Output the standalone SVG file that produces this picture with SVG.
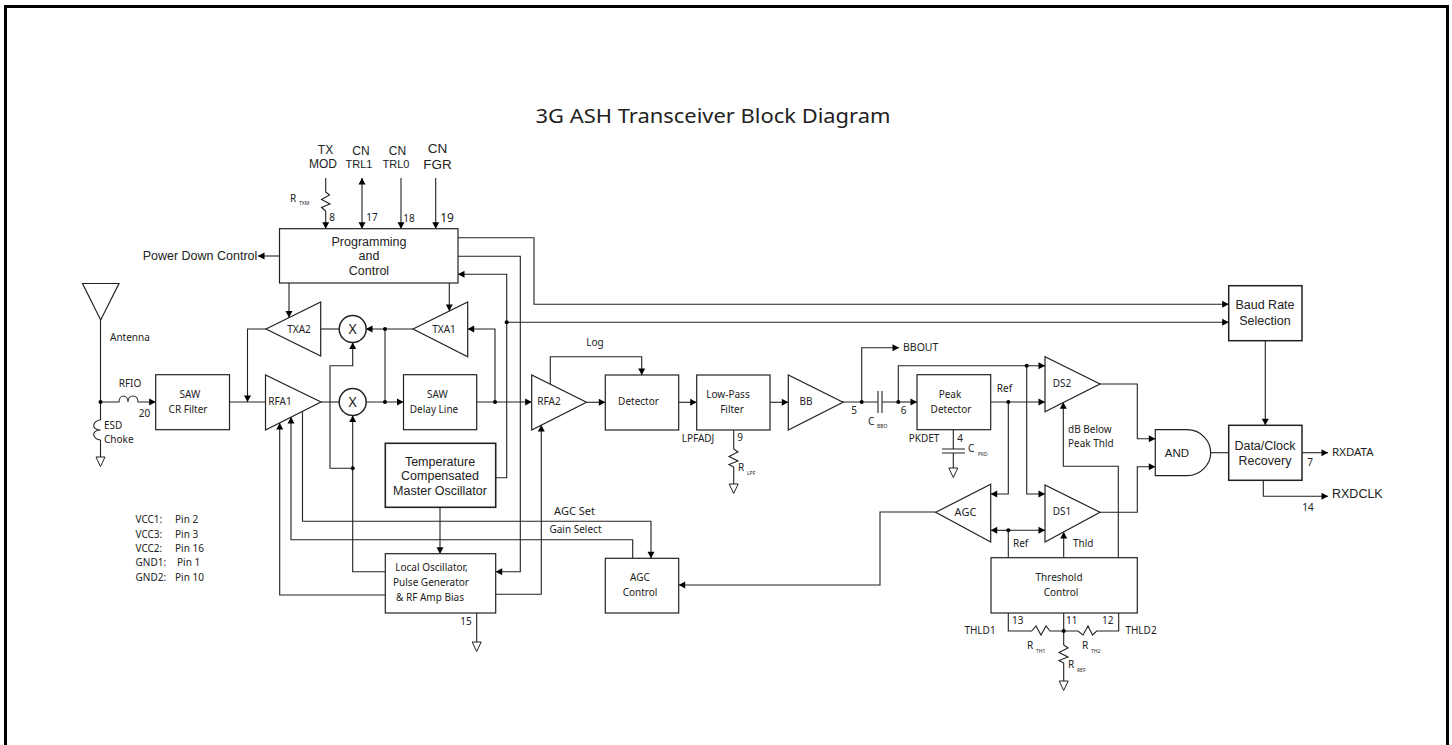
<svg xmlns="http://www.w3.org/2000/svg" width="1452" height="745" viewBox="0 0 1452 745">
<style>
text{font-family:"Noto Sans","Liberation Sans",sans-serif;font-size:10px;fill:#222;text-anchor:middle}
.a{font-family:"Liberation Sans",Arial,sans-serif;font-size:12.500px}
.l{text-anchor:start}
.s{font-size:5px;text-anchor:start}
.b{fill:#fff;stroke:#222;stroke-width:1.2}
.t{fill:none;stroke:#222;stroke-width:1.2}
#wires path{fill:none;stroke:#222;stroke-width:1.1}
.ar{marker-end:url(#h)}
.d{fill:#000}
</style>
<defs>
<marker id="h" markerUnits="userSpaceOnUse" markerWidth="8" markerHeight="8" refX="7" refY="4" orient="auto"><path d="M0.5 0.5L7 4L0.5 7.5Z" fill="#000"/></marker>
<g id="gnd"><path d="M-4.500 0H4.500L0 9.500Z" fill="#fff" stroke="#222" stroke-width="1"/></g>
</defs>
<rect x="5.500" y="6.500" width="1442" height="745" fill="#fff" stroke="#000" stroke-width="3"/>
<text x="713" y="123" style="font-size:20px" textLength="355" lengthAdjust="spacingAndGlyphs">3G ASH Transceiver Block Diagram</text>

<g id="wires">
<path class="ar" d="M325.700 211V228.700"/><path d="M325.700 178V192L329.500 195L321.500 199.500L330 204L321.500 207.500L325.700 211"/>
<path class="ar" d="M362 203V228.700"/><path class="ar" d="M362 203V178"/>
<path class="ar" d="M401 178V228.700"/><path class="ar" d="M435.700 178V228.700"/>
<path class="ar" d="M279.500 256H258"/>
<path d="M100.500 320V420M100.500 440V457"/>
<path d="M100.500 420C93 420 90 430 100.500 430M100.500 430C90 430 93 440 100.500 440"/>
<path class="ar" d="M100.500 402H119C119 394 128 394 128 402C128 394 138 394 138 402H155.700"/>
<path d="M229.500 402H265.500"/>
<path class="ar" d="M266 329H247.500V402"/>
<path class="ar" d="M289 283V317.500"/><path class="ar" d="M449.300 283V311"/>
<path d="M320.700 329H339"/><path d="M321 402H339"/>
<path d="M366 402H403.500" class="ar"/><path class="ar" d="M413 329H366"/>
<path d="M385 329V402"/>
<path class="ar" d="M476.700 402H531.700"/>
<path class="ar" d="M495 402V329H467.700"/>
<path class="ar" d="M586.500 402.300H605.300"/>
<path class="ar" d="M550.300 384V356.700H641.700V375"/>
<path class="ar" d="M678.700 402.300H696.700"/>
<path class="ar" d="M770 402.300H788.300"/>
<path d="M733.700 430V449L738 452L729 456.500L738 461L729 464.500L733.700 467V484"/>
<path d="M842 402H878M882 402H898.300"/>
<path d="M878 391V413M882 391V413"/>
<path class="ar" d="M861.700 402V347.700H899"/>
<path class="ar" d="M898.300 402H917"/>
<path class="ar" d="M898.300 402V365.700H1045"/>
<path class="ar" d="M1026.700 365.700V494H1045"/>
<path class="ar" d="M990.700 402H1045"/>
<path class="ar" d="M1008.300 402V494H990.700"/>
<path d="M953.300 430V449M953.300 453V468M942 449H965M942 453H965"/>
<path class="ar" d="M1100 384H1137.300V438.700H1155.300"/>
<path class="ar" d="M1100 512.300H1137.300V466.700H1155.300"/>
<path d="M1210.700 452.700H1228.700"/>
<path class="ar" d="M1302 452.700H1328"/>
<path class="ar" d="M1263.300 480.300V496.300H1328"/>
<path class="ar" d="M1265.300 340.700V425.300"/>
<path class="ar" d="M458 237.700H534V304.300H1228.700"/>
<path class="ar" d="M458 256.300H520.300V571.700H495.700"/>
<path class="ar" d="M495.700 477.700H506.700V274.300H458"/>
<path class="ar" d="M506.700 322.300H1228.700"/>
<path class="ar" d="M440 507.300V553.700"/>
<path class="ar" d="M495.700 594.300H541.300V425"/>
<path d="M476.700 613V642"/>
<path class="ar" d="M385.300 595H279.700V423"/>
<path class="ar" d="M385.300 571.700H352.700V415.500"/>
<path class="ar" d="M352.700 468.300H330V365.700H352.700V342.500"/>
<path class="ar" d="M302.500 412V521.300H651V558.300"/>
<path class="ar" d="M632.700 558.300V539.700H291V417"/>
<path class="ar" d="M935.700 512H880V585H678.700"/>
<path class="ar" d="M1008.300 530.300H990.700"/><path class="ar" d="M1008.300 530.300H1045"/>
<path d="M1008.300 557.700V530.300"/>
<path class="ar" d="M1063.700 557.700V532"/>
<path class="ar" d="M1118.300 557.700V466.300H1063.300V402.300"/>
<path d="M1008.300 613V631H1031.700L1036 626L1041 635L1046 626L1050 631H1063.700H1078L1083 635L1088 626L1092.500 635L1096.700 631H1118.700V613"/>
<path d="M1063.700 613V645L1068 648L1059 652.500L1068 657L1059 660.500L1063.700 663V681"/>
<circle class="d" cx="100.500" cy="402" r="2"/><circle class="d" cx="385" cy="329" r="2"/><circle class="d" cx="385" cy="402" r="2"/>
<circle class="d" cx="495" cy="402" r="2"/><circle class="d" cx="506.700" cy="322.300" r="2"/><circle class="d" cx="352.700" cy="468.300" r="2"/>
<circle class="d" cx="861.700" cy="402" r="2"/><circle class="d" cx="898.300" cy="402" r="2"/><circle class="d" cx="1026.700" cy="365.700" r="2"/>
<circle class="d" cx="1008.300" cy="402" r="2"/><circle class="d" cx="1008.300" cy="530.300" r="2"/><circle class="d" cx="1063.700" cy="631" r="2"/>
<use href="#gnd" x="100.500" y="457"/><use href="#gnd" x="476.700" y="642"/><use href="#gnd" x="733.700" y="484"/><use href="#gnd" x="953.300" y="468"/><use href="#gnd" x="1063.700" y="681"/>
</g>

<g id="antenna"><path class="t" d="M82.500 283.500H119L100.700 320Z"/><text class="l" x="110" y="341">Antenna</text></g>
<g id="prog"><rect class="b" x="279.500" y="228.700" width="178.500" height="54.300"/><text class="a" x="369" y="246">Programming</text><text class="a" x="369" y="260">and</text><text class="a" x="369" y="274.500">Control</text></g>
<g id="sawcr"><rect class="b" x="155.700" y="374.700" width="73.800" height="55"/><text x="190" y="398">SAW</text><text x="188" y="413">CR Filter</text></g>
<g id="rfa1"><path class="b" d="M265.500 375V430L321 402Z"/><text x="280" y="405">RFA1</text></g>
<g id="txa2"><path class="b" d="M266 329L320.700 302V356Z"/><text x="299" y="332.500">TXA2</text></g>
<g id="txa1"><path class="b" d="M413 329L467.700 302V356.700Z"/><text x="444" y="332.500">TXA1</text></g>
<g id="mix1"><circle class="b" style="stroke-width:1.500" cx="352.700" cy="329" r="13.500"/><text x="352.700" y="334" style="font-size:14px">X</text></g>
<g id="mix2"><circle class="b" style="stroke-width:1.500" cx="352.700" cy="402" r="13.500"/><text x="352.700" y="407" style="font-size:14px">X</text></g>
<g id="sawdl"><rect class="b" x="403.500" y="374.700" width="73.200" height="55"/><text x="437.500" y="398">SAW</text><text x="434" y="413">Delay Line</text></g>
<g id="rfa2"><path class="b" d="M531.700 375V430L586.500 402.300Z"/><text x="549" y="405">RFA2</text></g>
<g id="detector"><rect class="b" x="605.300" y="375" width="73.400" height="55"/><text x="638.500" y="405">Detector</text><text x="595" y="346">Log</text></g>
<g id="lpf"><rect class="b" x="696.700" y="375" width="73.300" height="55"/><text x="728" y="398">Low-Pass</text><text x="732" y="413">Filter</text></g>
<g id="bb"><path class="b" d="M788.300 375V430L843 402.300Z"/><text x="806" y="405">BB</text></g>
<g id="tcmo"><rect class="b" style="stroke-width:1.600" x="385.300" y="443.300" width="110.400" height="64"/><text class="a" x="440" y="466">Temperature</text><text class="a" x="440" y="480">Compensated</text><text class="a" x="440" y="495">Master Oscillator</text></g>
<g id="lo"><rect class="b" x="385.300" y="553.700" width="110.400" height="59.300"/><text x="431.500" y="571">Local Oscillator,</text><text x="431" y="586">Pulse Generator</text><text x="430" y="601">&amp; RF Amp Bias</text></g>
<g id="agcctl"><rect class="b" x="605.300" y="558.300" width="73.400" height="54.700"/><text x="640" y="581">AGC</text><text x="640" y="596">Control</text></g>
<g id="peak"><rect class="b" x="917" y="374.700" width="73.700" height="55"/><text x="950" y="398">Peak</text><text x="951" y="413">Detector</text></g>
<g id="ds2"><path class="b" d="M1045 356.700V411.700L1100 384Z"/><text x="1062" y="387">DS2</text></g>
<g id="ds1"><path class="b" d="M1045 485V542L1100 512.300Z"/><text x="1062" y="515">DS1</text></g>
<g id="agc"><path class="b" d="M990.700 484.300V542L935.700 512.300Z"/><text x="965.500" y="515.500" style="font-size:11px">AGC</text></g>
<g id="thresh"><rect class="b" x="991" y="557.700" width="146.300" height="55.300"/><text x="1059" y="581">Threshold</text><text x="1061" y="596">Control</text></g>
<g id="and"><path class="b" d="M1155.300 429.700H1187C1201 429.700 1210.700 441 1210.700 452.700C1210.700 464 1201 475.700 1187 475.700H1155.300Z"/><text class="a" style="font-size:11.500px" x="1177" y="456.500">AND</text></g>
<g id="baud"><rect class="b" style="stroke-width:1.500" x="1228.700" y="285.700" width="73.300" height="55"/><text class="a" x="1265" y="309">Baud Rate</text><text class="a" x="1265" y="325">Selection</text></g>
<g id="dcr"><rect class="b" style="stroke-width:1.500" x="1228.700" y="425.300" width="73.300" height="55"/><text class="a" x="1265" y="450">Data/Clock</text><text class="a" x="1265" y="465">Recovery</text></g>

<g id="labels">
<text class="a" style="font-size:12px" x="325.500" y="154">TX</text><text class="a" style="font-size:12px" x="323" y="167.500">MOD</text>
<text class="a" style="font-size:12px" x="361" y="155">CN</text><text class="a" x="359" y="168" style="font-size:11px">TRL1</text>
<text class="a" style="font-size:12px" x="397.500" y="155">CN</text><text class="a" x="396" y="168" style="font-size:11px">TRL0</text>
<text class="a" x="437.500" y="153" style="font-size:13.500px">CN</text><text class="a" x="437.500" y="169" style="font-size:13.500px">FGR</text>
<text x="332" y="221">8</text><text x="372" y="221">17</text><text x="409" y="222">18</text><text x="447" y="222" style="font-size:12px">19</text>
<text class="l" x="290" y="202">R</text><text class="s" x="299" y="205">TXM</text>
<text class="a" x="200" y="260">Power Down Control</text>
<text x="130" y="387">RFIO</text><text x="144.500" y="417">20</text>
<text class="l" x="104" y="429">ESD</text><text class="l" x="104" y="443">Choke</text>
<text class="l" x="135.500" y="523">VCC1:</text><text class="l" x="175" y="523">Pin 2</text>
<text class="l" x="135.500" y="537.500">VCC3:</text><text class="l" x="175" y="537.500">Pin 3</text>
<text class="l" x="135.500" y="552">VCC2:</text><text class="l" x="175" y="552">Pin 16</text>
<text class="l" x="135.500" y="566">GND1:</text><text class="l" x="177" y="566">Pin 1</text>
<text class="l" x="135.500" y="580.500">GND2:</text><text class="l" x="175" y="580.500">Pin 10</text>
<text x="466" y="625">15</text>
<text x="574.500" y="515" style="font-size:11px">AGC Set</text><text x="575.500" y="533">Gain Select</text><text x="698" y="442">LPFADJ</text>
<text x="740" y="441">9</text><text class="l" x="738" y="471">R</text><text class="s" x="747" y="475">LPF</text>
<text class="l" x="903" y="351" style="font-size:10.500px">BBOUT</text><text x="854" y="414">5</text><text x="903.500" y="414">6</text>
<text class="l" x="868" y="425">C</text><text class="s" x="877" y="428">BBO</text>
<text x="1004.500" y="392">Ref</text><text x="924" y="442">PKDET</text><text x="960" y="442">4</text>
<text class="l" x="968" y="452">C</text><text class="s" x="978" y="456">PKD</text>
<text class="l" x="1068" y="433">dB Below</text><text class="l" x="1068" y="447">Peak Thld</text>
<text class="l" x="1013" y="547">Ref</text><text class="l" x="1073" y="547">Thld</text>
<text class="l" x="1012" y="624">13</text><text class="l" x="1066" y="624">11</text><text class="l" x="1102" y="624">12</text>
<text x="980" y="634">THLD1</text><text x="1141" y="634">THLD2</text>
<text class="l" x="1027" y="649">R</text><text class="s" x="1036" y="653">TH1</text>
<text class="l" x="1082" y="649">R</text><text class="s" x="1091" y="653">TH2</text>
<text class="l" x="1068" y="668">R</text><text class="s" x="1077" y="672">REF</text>
<text class="l" x="1332" y="456" style="font-size:11.500px">RXDATA</text><text class="a l" x="1332" y="498">RXDCLK</text>
<text x="1310" y="466">7</text><text x="1308" y="511">14</text>
</g>
</svg>
